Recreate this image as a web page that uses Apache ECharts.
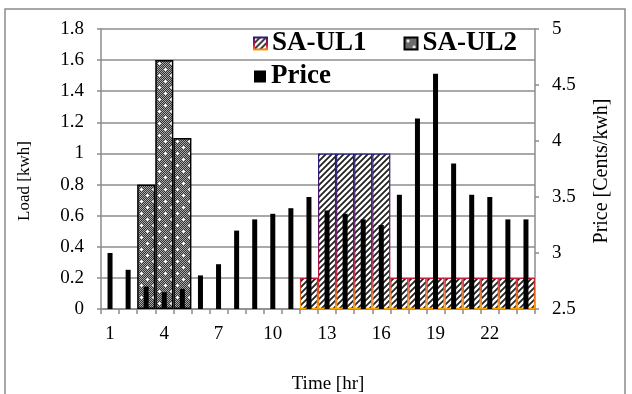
<!DOCTYPE html>
<html>
<head>
<meta charset="utf-8">
<script src="https://cdn.jsdelivr.net/npm/echarts@6/dist/echarts.min.js"></script>
<style>
  html, body { margin: 0; padding: 0; background: #fff; }
  #chart { width: 632px; height: 394px; }
</style>
</head>
<body>
<div id="chart"></div>
<script>
// Hourly categories
const hours = ['1','2','3','4','5','6','7','8','9','10','11','12',
               '13','14','15','16','17','18','19','20','21','22','23','24'];

// Shiftable appliance loads [kwh]
const saUL1 = ['-','-','-','-','-','-','-','-','-','-','-',0.2,
               1.0,1.0,1.0,1.0,0.2,0.2,0.2,0.2,0.2,0.2,0.2,0.2];
const saUL2 = ['-','-',0.8,1.6,1.1,'-','-','-','-','-','-','-',
               '-','-','-','-','-','-','-','-','-','-','-','-'];

// Electricity price [Cents/kwh]
const price = [3.0,2.85,2.7,2.65,2.68,2.8,2.9,3.2,3.3,3.35,3.4,3.5,
               3.38,3.35,3.3,3.25,3.52,4.2,4.6,3.8,3.52,3.5,3.3,3.3];

const FONT = '"Liberation Serif", "Times New Roman", serif';

// Diagonal hatch fill
function hatchTile() {
  const n = 6;
  const c = document.createElement('canvas');
  c.width = c.height = n;
  const g = c.getContext('2d');
  g.fillStyle = '#fff';
  g.fillRect(0, 0, n, n);
  g.strokeStyle = '#222';
  g.lineWidth = 1.8;
  g.beginPath();
  g.moveTo(0, n); g.lineTo(n, 0);
  g.moveTo(-1, 1); g.lineTo(1, -1);
  g.moveTo(n - 1, n + 1); g.lineTo(n + 1, n - 1);
  g.stroke();
  return c;
}

// Dark dotted fill with white sparkles
function dotTile() {
  const n = 12;
  const c = document.createElement('canvas');
  c.width = c.height = n;
  const g = c.getContext('2d');
  for (let y = 0; y < n; y++) {
    for (let x = 0; x < n; x++) {
      g.fillStyle = ((x + y) % 2 === 0) ? '#a8a8a8' : '#333';
      g.fillRect(x, y, 1, 1);
    }
  }
  g.fillStyle = '#fff';
  [[3, 3], [9, 9]].forEach(([cx, cy]) => {
    g.fillRect(cx - 1, cy, 3, 1);
    g.fillRect(cx, cy - 1, 1, 3);
  });
  return c;
}

const chart = echarts.init(document.getElementById('chart'), null, { renderer: 'canvas' });

// Outline colour of the SA-UL1 bars fades from navy (top) to orange (base)
const ul1Border = new echarts.graphic.LinearGradient(0, 150, 0, 309, [
  { offset: 0, color: '#1d1d78' },
  { offset: 0.55, color: '#6a1462' },
  { offset: 0.8, color: '#c4183c' },
  { offset: 1, color: '#ffa200' }
], true);
const ul1IconBorder = new echarts.graphic.LinearGradient(0, 0, 0, 1, [
  { offset: 0, color: '#1d1d78' },
  { offset: 0.6, color: '#c4183c' },
  { offset: 1, color: '#ffa200' }
]);

const hatch = { image: hatchTile(), repeat: 'repeat' };
const dots = { image: dotTile(), repeat: 'repeat' };

const axisGray = '#8c8c8c';
const labelStyle = { color: '#000', fontFamily: FONT, fontSize: 19 };
const legendText = { fontFamily: FONT, fontSize: 27, fontWeight: 'bold', color: '#000' };

chart.setOption({
  animation: false,
  backgroundColor: '#fff',
  textStyle: { fontFamily: FONT },
  grid: { left: 101, right: 97, top: 29, bottom: 85, containLabel: false },
  legend: [
    {
      data: [
        { name: 'SA-UL1', itemStyle: { borderColor: ul1IconBorder } },
        'SA-UL2'
      ],
      left: 253, top: 30, padding: 0,
      itemGap: 37, itemWidth: 13, itemHeight: 12,
      icon: 'rect',
      textStyle: legendText
    },
    {
      data: ['Price'],
      left: 254, top: 63, padding: 0,
      itemWidth: 12, itemHeight: 12,
      icon: 'rect',
      textStyle: legendText
    }
  ],
  xAxis: [
    {
      type: 'category',
      data: hours,
      boundaryGap: true,
      axisLine: { lineStyle: { color: axisGray, width: 1.5 } },
      axisTick: { show: true, interval: 0, length: 5, lineStyle: { color: axisGray, width: 1.5 } },
      axisLabel: Object.assign({ interval: 2, margin: 16 }, labelStyle),
      splitLine: { show: false }
    },
    {
      type: 'category',
      data: hours,
      show: false
    }
  ],
  yAxis: [
    {
      type: 'value',
      min: 0, max: 1.8, interval: 0.2,
      axisLine: { show: true, lineStyle: { color: axisGray, width: 1.5 } },
      axisTick: { show: true, length: 4, lineStyle: { color: axisGray, width: 1.5 } },
      axisLabel: Object.assign({ margin: 17 }, labelStyle),
      splitLine: { show: true, lineStyle: { color: axisGray, width: 1.5 } }
    },
    {
      type: 'value',
      min: 2.5, max: 5, interval: 0.5,
      position: 'right',
      axisLine: { show: true, lineStyle: { color: axisGray, width: 1.5 } },
      axisTick: { show: true, length: 4, lineStyle: { color: axisGray, width: 1.5 } },
      axisLabel: Object.assign({ margin: 17 }, labelStyle),
      splitLine: { show: false }
    }
  ],
  series: [
    {
      name: 'SA-UL1',
      type: 'bar',
      xAxisIndex: 0, yAxisIndex: 0,
      stack: 'load',
      barWidth: '100%',
      data: saUL1,
      itemStyle: { color: hatch, borderColor: ul1Border, borderWidth: 1.2 }
    },
    {
      name: 'SA-UL2',
      type: 'bar',
      xAxisIndex: 0, yAxisIndex: 0,
      stack: 'load',
      barWidth: '100%',
      data: saUL2,
      itemStyle: { color: dots, borderColor: '#000', borderWidth: 1.5 }
    },
    {
      name: 'Price',
      type: 'bar',
      xAxisIndex: 1, yAxisIndex: 1,
      barWidth: 5,
      z: 5,
      data: price,
      itemStyle: { color: '#000' }
    }
  ],
  graphic: [
    {
      type: 'rect',
      shape: { x: 5, y: 9, width: 620, height: 400 },
      style: { fill: 'none', stroke: '#8c8c8c', lineWidth: 1.5 },
      silent: true, z: -1
    },
    {
      type: 'text',
      x: 25, y: 181, rotation: Math.PI / 2,
      style: { text: 'Load [kwh]', fill: '#000', font: '17px "Liberation Serif"', align: 'center', verticalAlign: 'middle' }
    },
    {
      type: 'text',
      x: 602, y: 171, rotation: Math.PI / 2,
      style: { text: 'Price [Cents/kwh]', fill: '#000', font: '20px "Liberation Serif"', align: 'center', verticalAlign: 'middle' }
    },
    {
      type: 'text',
      x: 328, y: 384,
      style: { text: 'Time [hr]', fill: '#000', font: '19px "Liberation Serif"', align: 'center', verticalAlign: 'middle' }
    }
  ]
});
</script>
</body>
</html>
